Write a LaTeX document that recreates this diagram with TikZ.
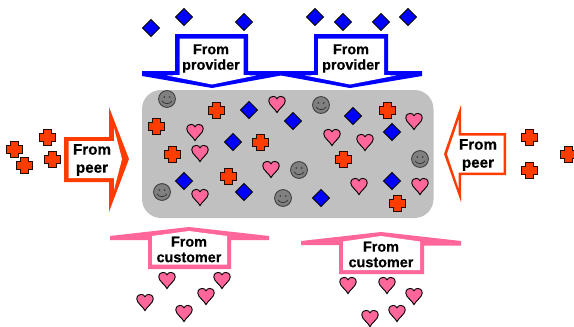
\documentclass[tikz,border=0pt]{standalone}
\usepackage{fontspec}
\setmainfont{Liberation Sans}[BoldFeatures={FakeBold=0.5}]
\definecolor{provblue}{HTML}{0000FF}
\definecolor{peerred}{HTML}{FF3C00}
\definecolor{custpink}{HTML}{FF6699}
\definecolor{poolgray}{HTML}{C0C0C0}
\definecolor{facegray}{HTML}{808080}
\tikzset{
  x=1pt,y=-1pt,
  symline/.style={draw=black,line width=0.9pt,line join=miter},
  lab/.style={font=\bfseries\fontsize{14.4}{15.5}\selectfont,align=center,inner sep=0pt,text=black},
  labpeer/.style={font=\bfseries\fontsize{15.2}{18}\selectfont,align=center,inner sep=0pt,text=black},
  pics/diamondmark/.style={code={\path[symline,fill=provblue] (0,-8.4)--(8.4,0)--(0,8.4)--(-8.4,0)--cycle;}},
  pics/plusmark/.style={code={\path[symline,fill=peerred,draw=black!85!peerred] (-4,-8)--(4,-8)--(4,-4)--(8,-4)--(8,4)--(4,4)--(4,8)--(-4,8)--(-4,4)--(-8,4)--(-8,-4)--(-4,-4)--cycle;}},
  pics/heartmark/.style={code={\path[symline,fill=custpink] (0,8.6) .. controls (-2,4.5) and (-8.2,1) .. (-8.2,-3) .. controls (-8.2,-6.6) and (-5.5,-7.6) .. (-3.8,-7.6) .. controls (-2,-7.6) and (-0.6,-6.6) .. (0,-5.2) .. controls (0.6,-6.6) and (2,-7.6) .. (3.8,-7.6) .. controls (5.5,-7.6) and (8.2,-6.6) .. (8.2,-3) .. controls (8.2,1) and (2,4.5) .. (0,8.6) -- cycle;}},
  pics/smilemark/.style={code={
    \path[draw=black!75,line width=0.9pt,fill=facegray] (0,0) circle[radius=8.4];
    \fill[black!80] (-2.8,-2) circle[radius=0.9] (2.8,-2) circle[radius=0.9];
    \draw[black!80,line width=0.7pt] (-5,1.8) .. controls (-3,5.6) and (3,5.6) .. (5,1.8);
  }},
}
\begin{document}
\begin{tikzpicture}
\useasboundingbox (0,0) rectangle (574,327);
% central pool
\path[fill=poolgray,rounded corners=19pt] (142,90) rectangle (433.5,218);
% provider arrows
\path[fill=provblue] (175,34)--(248,34)--(248,71)--(314,71)--(314,34)--(388,34)--(388,71)--(422,71)--(422,76)--(350,88)--(281,75.5)--(212,88)--(142,76)--(142,71)--(175,71)--cycle;
\path[fill=white] (179.5,38.5)--(243.5,38.5)--(243.5,75)--(256,75.5)--(212,84.5)--(167,75.5)--(179.5,75)--cycle;
\path[fill=white] (318,38.5)--(384,38.5)--(384,75)--(396,75.5)--(350,84.5)--(305,75.5)--(318,75)--cycle;
% peer arrows
\path[fill=peerred] (64,137)--(109,137)--(109,107)--(129,159)--(109,212)--(109,182)--(64,182)--cycle;
\path[fill=white] (68.5,141)--(114,141)--(114,128)--(122,159)--(114,190)--(114,178)--(68.5,178)--cycle;
\path[fill=peerred] (444,154)--(461,105)--(461,133)--(506,133)--(506,175)--(461,175)--(461,202)--cycle;
\path[fill=white] (447,154)--(458.5,120)--(458.5,135.5)--(503.5,135.5)--(503.5,172.5)--(458.5,172.5)--(458.5,188)--cycle;
% customer arrows
\path[fill=custpink] (110,240)--(110,236)--(189,227)--(269,236)--(269,240)--(231,240)--(231,269)--(148,269)--(148,240)--cycle;
\path[fill=white] (152,264.5)--(227,264.5)--(227,236)--(189,231)--(152,236)--cycle;
\path[fill=custpink] (301,245)--(301,241)--(381,232)--(461,241)--(461,245.5)--(424,245.5)--(424,274)--(339,274)--(339,245)--cycle;
\path[fill=white] (343,270)--(420,270)--(420,241.5)--(381,236)--(343,241.5)--cycle;
% labels
\node[lab] (prov1) at (211,58.5) {From\\provider};
\node[lab] (prov2) at (351,58.5) {From\\provider};
\node[labpeer] (peer1) at (92,160) {From\\peer};
\node[labpeer] (peer2) at (478,155) {From\\peer};
\node[lab] (cust1) at (189,249.5) {From\hspace{6pt}\\customer};
\node[lab] (cust2) at (381,254.5) {From\hspace{6pt}\\customer};
% symbols
\foreach \p in {(151,28),(184,17),(244,22),(315,17),(343,22),(381,22),(408,17),(249,110),(233,142),(184,181),(244,192),(293,121),(353,116),(392,132),(392,181),(321,198)}
  \pic at \p {diamondmark};
\foreach \p in {(216,110),(156,126),(172,154),(260,142),(228,176),(387,110),(343,159),(397,203),(47,137),(14,149),(24,165),(52,159),(529,137),(529,170),(568,154)}
  \pic at \p {plusmark};
\foreach \p in {(277,104),(195,132),(200,153),(271,169),(200,197),(332,137),(365,142),(414,121),(359,186),(420,186),(167,280),(222,280),(145,302),(206,296),(184,313),(348,285),(387,285),(414,296),(397,313),(370,318)}
  \pic at \p {heartmark};
\foreach \p in {(167,99),(162,192),(283,198),(321,105),(299,170),(420,159)}
  \pic at \p {smilemark};
\end{tikzpicture}
\end{document}
